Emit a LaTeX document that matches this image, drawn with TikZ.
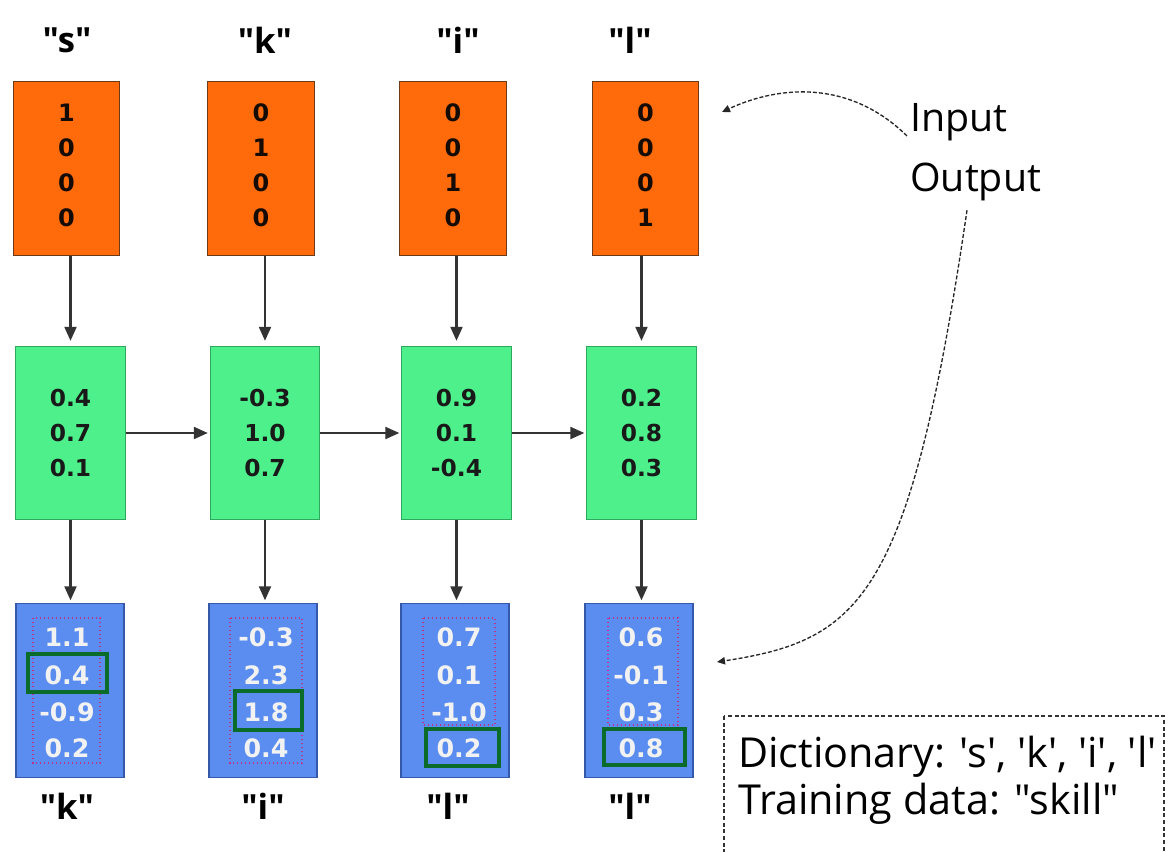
\documentclass[tikz,border=0pt]{standalone}
\usepackage{fontspec}
\newfontfamily\osans{Open Sans}
\newfontfamily\numfont{DejaVu Sans}
\usetikzlibrary{arrows.meta}
\definecolor{orgfill}{HTML}{FF6A0A}
\definecolor{orgline}{HTML}{6B3A1A}
\definecolor{grnfill}{HTML}{4EF08C}
\definecolor{grnline}{HTML}{2EA85E}
\definecolor{blufill}{HTML}{5B8DF0}
\definecolor{bluline}{HTML}{3558A8}
\definecolor{hilite}{HTML}{0B6B2A}
\definecolor{dotpink}{HTML}{C0308A}
\definecolor{numwhite}{HTML}{F2F2F2}
\begin{document}
\begin{tikzpicture}[x=0.75pt,y=-0.75pt,
  obox/.style={draw=orgline,fill=orgfill,line width=0.8pt,minimum width=80pt,minimum height=130pt,inner sep=0pt},
  gbox/.style={draw=grnline,fill=grnfill,line width=0.8pt,minimum width=82pt,minimum height=130pt,inner sep=0pt},
  bbox/.style={draw=bluline,fill=blufill,line width=0.8pt,minimum width=81pt,minimum height=130pt,inner sep=0pt},
  onum/.style={font=\numfont\bfseries\fontsize{18}{20}\selectfont,text=black!80!orgline,inner sep=0pt},
  gnum/.style={font=\numfont\bfseries\fontsize{17.5}{20}\selectfont,text=black!90,inner sep=0pt},
  bnum/.style={font=\numfont\bfseries\fontsize{19}{20}\selectfont,text=numwhite,inner sep=0pt},
  letter/.style={font=\osans\bfseries\fontsize{26}{30}\selectfont,inner sep=0pt},
  label/.style={font=\osans\fontsize{29.5}{34}\selectfont,inner sep=0pt,anchor=west},
  dictlabel/.style={font=\osans\fontsize{31}{36}\selectfont,inner sep=0pt,anchor=west},
  arr/.style={line width=1.6pt,draw=black!80,-{Triangle[width=9pt,length=10.5pt]}},
  dotrect/.style={draw=dotpink,dotted,line width=1pt},
  hirect/.style={draw=hilite,line width=3pt},
  curvy/.style={line width=1pt,draw=black!85,dash pattern=on 3pt off 1.5pt,-{Triangle[width=5.5pt,length=6pt]}}
]
\useasboundingbox (0,0) rectangle (1168,852);

% top letters
\node[letter] (t1) at (67,40) {"s"};
\node[letter] (t2) at (265,40) {"k"};
\node[letter] (t3) at (458,40) {"i"};
\node[letter] (t4) at (630,40) {"l"};

% orange boxes
\node[obox] (o1) at (66.5,168.5) {};
\node[obox] (o2) at (261,168.5) {};
\node[obox] (o3) at (453,168.5) {};
\node[obox] (o4) at (645.5,168.5) {};
\foreach \i/\a/\b/\c/\d in {1/1/0/0/0,2/0/1/0/0,3/0/0/1/0,4/0/0/0/1}{
  \node[onum] (o\i a) at ([yshift=55.5*0.75pt]o\i.center) {\a};
  \node[onum] (o\i b) at ([yshift=20.5*0.75pt]o\i.center) {\b};
  \node[onum] (o\i c) at ([yshift=-14.5*0.75pt]o\i.center) {\c};
  \node[onum] (o\i d) at ([yshift=-49.5*0.75pt]o\i.center) {\d};
}

% green boxes
\node[gbox] (g1) at (70.5,433) {};
\node[gbox] (g2) at (265,433) {};
\node[gbox] (g3) at (456.5,433) {};
\node[gbox] (g4) at (641.5,433) {};
\foreach \i/\a/\b/\c in {1/0.4/0.7/0.1,2/-0.3/1.0/0.7,3/0.9/0.1/-0.4,4/0.2/0.8/0.3}{
  \node[gnum] (g\i a) at ([yshift=35*0.75pt]g\i.center) {\a};
  \node[gnum] (g\i b) at (g\i.center) {\b};
  \node[gnum] (g\i c) at ([yshift=-35*0.75pt]g\i.center) {\c};
}

% blue boxes
\node[bbox] (b1) at (70,690.5) {};
\node[bbox] (b2) at (263,690.5) {};
\node[bbox] (b3) at (455,690.5) {};
\node[bbox] (b4) at (639,690.5) {};

% inner rectangles
\draw[dotrect] (33,618) rectangle (100,763);
\draw[dotrect] (230,618) rectangle (302,763);
\draw[dotrect] (423,618) rectangle (495,725);
\draw[dotrect] (608,618) rectangle (678,725);

\foreach \i/\x/\a/\b/\c/\d in {1/67/1.1/0.4/-0.9/0.2,2/266/-0.3/2.3/1.8/0.4,3/459/0.7/0.1/-1.0/0.2,4/641/0.6/-0.1/0.3/0.8}{
  \node[bnum] (b\i a) at (\x,637) {\a};
  \node[bnum] (b\i b) at (\x,675) {\b};
  \node[bnum] (b\i c) at (\x,712) {\c};
  \node[bnum] (b\i d) at (\x,748) {\d};
}

\draw[hirect] (28,654) rectangle (107,692);
\draw[hirect] (235,691) rectangle (302,730);
\draw[hirect] (426,729) rectangle (499,766);
\draw[hirect] (604,729) rectangle (685,765);

% bottom letters
\node[letter] (d1) at (67,806) {"k"};
\node[letter] (d2) at (263,806) {"i"};
\node[letter] (d3) at (448,806) {"l"};
\node[letter] (d4) at (630,806) {"l"};

% vertical arrows
\foreach \i in {1,2,3,4}{
  \draw[arr] (o\i.south -| g\i.north) -- ([yshift=5*0.75pt]g\i.north);
  \draw[arr] (g\i.south) -- ([yshift=3*0.75pt]g\i.south |- b\i.north);
}
% horizontal arrows
\draw[arr] (g1.east) -- ([xshift=-2*0.75pt]g2.west);
\draw[arr] (g2.east) -- ([xshift=-2*0.75pt]g3.west);
\draw[arr] (g3.east) -- ([xshift=-2*0.75pt]g4.west);

% labels
\node[label] (inp) at (910,122) {Input};
\node[label] (outp) at (910,182) {Output};
\coordinate (inTip) at (722,112);
\coordinate (outTip) at (717,662);
\draw[curvy] ([xshift=-3*0.75pt,yshift=-14*0.75pt]inp.west) .. controls (850,80) and (780,85) .. (inTip);
\draw[curvy] ([xshift=57*0.75pt,yshift=-9*0.75pt]outp.south west) .. controls (910,600) and (860,640) .. (outTip);

% dictionary box
\draw[dash pattern=on 3pt off 2pt,line width=0.8pt,draw=black!80] (724,716) rectangle (1164,870);
\node[dictlabel] (dict) at (738,757) {Dictionary: 's', 'k', 'i', 'l'};
\node[dictlabel] (train) at (738,804) {Training data: "skill"};
\end{tikzpicture}
\end{document}
